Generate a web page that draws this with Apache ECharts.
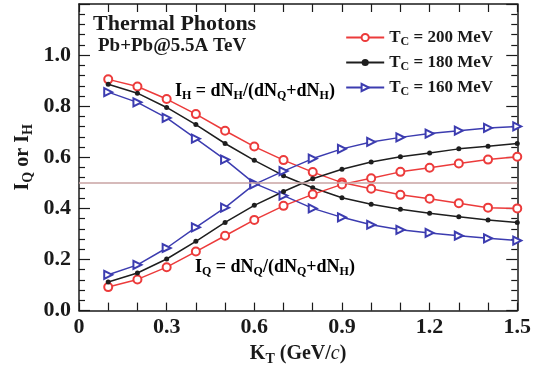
<!DOCTYPE html>
<html>
<head>
<meta charset="utf-8">
<script src="https://cdn.jsdelivr.net/npm/echarts@6/dist/echarts.min.js"></script>
<style>
  html, body { margin: 0; padding: 0; background: #fff; }
  #chart { width: 534px; height: 371px; }
</style>
</head>
<body>
<div id="chart"></div>
<script>
// K_T values (GeV/c)
const kt = [0.1, 0.2, 0.3, 0.4, 0.5, 0.6, 0.7, 0.8, 0.9, 1.0, 1.1, 1.2, 1.3, 1.4, 1.5]

// I_H curves
const ih200 = [0.905, 0.877, 0.828, 0.769, 0.704, 0.642, 0.589, 0.542, 0.501, 0.477, 0.453, 0.438, 0.420, 0.403, 0.400]
const ih180 = [0.886, 0.851, 0.795, 0.728, 0.654, 0.588, 0.528, 0.481, 0.442, 0.416, 0.397, 0.381, 0.367, 0.355, 0.345]
const ih160 = [0.855, 0.815, 0.754, 0.673, 0.591, 0.498, 0.450, 0.400, 0.365, 0.336, 0.316, 0.304, 0.293, 0.283, 0.274]

// I_Q curves
const iq200 = [0.092, 0.122, 0.170, 0.231, 0.293, 0.355, 0.410, 0.455, 0.494, 0.518, 0.543, 0.559, 0.576, 0.591, 0.602]
const iq180 = [0.112, 0.147, 0.202, 0.271, 0.345, 0.412, 0.466, 0.516, 0.553, 0.582, 0.602, 0.617, 0.633, 0.643, 0.654]
const iq160 = [0.140, 0.179, 0.245, 0.326, 0.403, 0.494, 0.546, 0.595, 0.633, 0.660, 0.678, 0.693, 0.704, 0.715, 0.721]

// reference line
const halfLine = 0.5

const legendNames = ['200', '180', '160']

const SERIF = '"Liberation Serif", "DejaVu Serif", serif'

// 上下标样式
function richSet(size) {
  return {
    m: { fontFamily: SERIF, fontWeight: 'bold', fontSize: size, color: '#1a1a1a' },
    s: { fontFamily: SERIF, fontWeight: 'bold', fontSize: Math.round(size * 0.68), color: '#1a1a1a', padding: [Math.round(size * 0.55), 0, 0, 0] },
    i: { fontFamily: SERIF, fontWeight: 'normal', fontStyle: 'italic', fontSize: size, color: '#1a1a1a' }
  }
}

function pairs(vals) {
  return kt.map((k, i) => [k, vals[i]])
}

const styles = {
  '200': { color: '#ec3b3b', symbol: 'emptyCircle', size: 8, rotate: 0 },
  '180': { color: '#1e1e1e', symbol: 'circle', size: 5, rotate: 0 },
  '160': { color: '#3c3cb0', symbol: 'emptyTriangle', size: 8, rotate: -90 }
}

function makeSeries(tc, vals) {
  const st = styles[tc]
  return {
    name: tc,
    type: 'line',
    data: pairs(vals),
    symbol: st.symbol,
    symbolSize: st.size,
    symbolRotate: st.rotate,
    showAllSymbol: true,
    lineStyle: { color: st.color, width: 1.5 },
    itemStyle: { color: st.color, borderWidth: 1.5 },
    emphasis: { disabled: true },
    z: 3
  }
}

const series = [
  makeSeries('200', ih200),
  makeSeries('180', ih180),
  makeSeries('160', ih160),
  makeSeries('200', iq200),
  makeSeries('180', iq180),
  makeSeries('160', iq160)
]
series[0].markLine = {
  silent: true,
  symbol: 'none',
  label: { show: false },
  lineStyle: { color: '#c9a3a3', width: 1.5, type: 'solid' },
  data: [{ yAxis: halfLine }]
}

const axisLine = { show: true, onZero: false, lineStyle: { color: '#1a1a1a', width: 1.5 } }
const tickStyle = { color: '#1a1a1a', width: 1.2 }

const xBase = {
  type: 'value',
  min: 0,
  max: 1.5,
  interval: 0.3,
  axisLine: axisLine,
  axisTick: { show: true, inside: true, length: 8, lineStyle: tickStyle },
  minorTick: { show: true, splitNumber: 3, length: 8, lineStyle: tickStyle },
  splitLine: { show: false }
}
const yBase = {
  type: 'value',
  min: 0,
  max: 1.2,
  interval: 0.2,
  axisLine: axisLine,
  axisTick: { show: true, inside: true, length: 11, lineStyle: tickStyle },
  minorTick: { show: true, splitNumber: 5, length: 6, lineStyle: tickStyle },
  splitLine: { show: false }
}

const chart = echarts.init(document.getElementById('chart'))

chart.setOption({
  animation: false,
  backgroundColor: '#fff',
  grid: { left: 79, right: 13, top: 4, bottom: 58 },
  xAxis: [
    Object.assign({}, xBase, {
      position: 'bottom',
      axisLabel: {
        fontFamily: SERIF, fontWeight: 'bold', fontSize: 22, color: '#1a1a1a', margin: 6,
        formatter: v => (v === 0 ? '0' : v.toFixed(1))
      },
      name: '{m|K}{s|T}{m| (GeV/}{i|c}{m|)}',
      nameLocation: 'middle',
      nameGap: 26,
      nameTextStyle: { rich: richSet(20) }
    }),
    Object.assign({}, xBase, { position: 'top', axisLabel: { show: false } })
  ],
  yAxis: [
    Object.assign({}, yBase, {
      position: 'left',
      axisLabel: {
        fontFamily: SERIF, fontWeight: 'bold', fontSize: 22, color: '#1a1a1a', margin: 8,
        showMaxLabel: false,
        formatter: v => v.toFixed(1)
      },
      name: '{m|I}{s|Q}{m| or I}{s|H}',
      nameLocation: 'middle',
      nameGap: 44,
      nameRotate: 90,
      nameMoveOverlap: false,
      nameTextStyle: { rich: richSet(20) }
    }),
    Object.assign({}, yBase, { position: 'right', axisLabel: { show: false } })
  ],
  legend: {
    data: legendNames,
    right: 36,
    top: 24,
    orient: 'vertical',
    itemWidth: 38,
    itemHeight: 9,
    itemGap: 6,
    formatter: name => `{m|T}{s|C}{m| = ${name} MeV}`,
    textStyle: { rich: richSet(17) },
    selectedMode: false
  },
  graphic: [
    {
      type: 'text',
      left: 93,
      top: 13,
      style: { text: 'Thermal Photons', font: `bold 22px ${SERIF}`, fill: '#1a1a1a' }
    },
    {
      type: 'text',
      left: 98,
      top: 37,
      style: { text: 'Pb+Pb@5.5A TeV', font: `bold 19px ${SERIF}`, fill: '#1a1a1a' }
    },
    {
      type: 'text',
      left: 175,
      top: 82,
      style: {
        text: '{m|I}{s|H}{m| = dN}{s|H}{m|/(dN}{s|Q}{m|+dN}{s|H}{m|)}',
        rich: richSet(18)
      }
    },
    {
      type: 'text',
      left: 195,
      top: 258,
      style: {
        text: '{m|I}{s|Q}{m| = dN}{s|Q}{m|/(dN}{s|Q}{m|+dN}{s|H}{m|)}',
        rich: richSet(18)
      }
    }
  ],
  series: series
})
</script>
</body>
</html>
